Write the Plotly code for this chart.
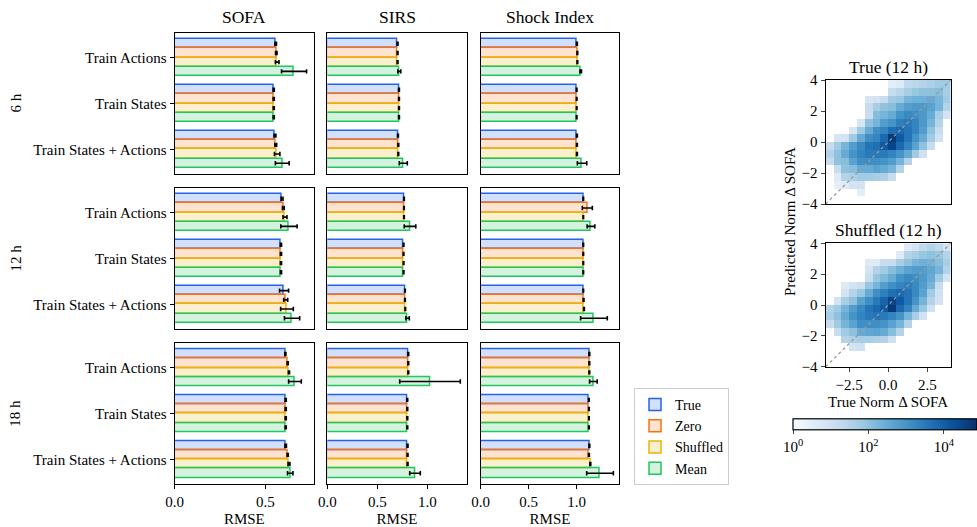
import plotly.graph_objects as go

W, H = 977, 527

metrics = ["SOFA", "SIRS", "Shock Index"]
horizons = ["6 h", "12 h", "18 h"]
groups = ["Train Actions", "Train States", "Train States + Actions"]
conditions = ["True", "Zero", "Shuffled", "Mean"]

# RMSE values, ordered: 6 h (TA, TS, TSA), 12 h (TA, TS, TSA), 18 h (TA, TS, TSA)
sofa_true = [0.557, 0.546, 0.553, 0.592, 0.586, 0.603, 0.610, 0.612, 0.612]
sofa_zero = [0.560, 0.546, 0.557, 0.599, 0.586, 0.612, 0.623, 0.612, 0.623]
sofa_shuf = [0.565, 0.546, 0.565, 0.608, 0.586, 0.619, 0.630, 0.612, 0.630]
sofa_mean = [0.658, 0.546, 0.593, 0.630, 0.586, 0.647, 0.663, 0.612, 0.637]
sofa_true_err = [0.004, 0.003, 0.005, 0.005, 0.003, 0.025, 0.003, 0.003, 0.004]
sofa_zero_err = [0.004, 0.003, 0.005, 0.005, 0.003, 0.011, 0.003, 0.003, 0.003]
sofa_shuf_err = [0.010, 0.003, 0.015, 0.011, 0.003, 0.035, 0.003, 0.003, 0.005]
sofa_mean_err = [0.069, 0.003, 0.038, 0.045, 0.003, 0.042, 0.035, 0.003, 0.015]

sirs_true = [0.703, 0.717, 0.707, 0.767, 0.763, 0.777, 0.810, 0.800, 0.803]
sirs_zero = [0.703, 0.717, 0.710, 0.767, 0.763, 0.777, 0.810, 0.800, 0.803]
sirs_shuf = [0.703, 0.717, 0.710, 0.767, 0.763, 0.780, 0.810, 0.800, 0.803]
sirs_mean = [0.720, 0.717, 0.760, 0.827, 0.763, 0.803, 1.027, 0.800, 0.877]
sirs_true_err = [0.004, 0.004, 0.004, 0.003, 0.003, 0.003, 0.004, 0.004, 0.004]
sirs_zero_err = [0.004, 0.004, 0.004, 0.003, 0.003, 0.003, 0.004, 0.004, 0.004]
sirs_shuf_err = [0.004, 0.004, 0.004, 0.003, 0.003, 0.003, 0.004, 0.004, 0.004]
sirs_mean_err = [0.015, 0.004, 0.040, 0.058, 0.003, 0.017, 0.303, 0.004, 0.053]

shock_true = [1.003, 1.000, 1.003, 1.069, 1.069, 1.069, 1.132, 1.128, 1.132]
shock_zero = [1.007, 1.000, 1.003, 1.111, 1.069, 1.072, 1.132, 1.128, 1.128]
shock_shuf = [1.007, 1.000, 1.003, 1.069, 1.069, 1.076, 1.132, 1.128, 1.142]
shock_mean = [1.042, 1.000, 1.056, 1.149, 1.069, 1.180, 1.174, 1.128, 1.243]
shock_true_err = [0.004, 0.003, 0.004, 0.003, 0.003, 0.003, 0.004, 0.003, 0.004]
shock_zero_err = [0.004, 0.003, 0.004, 0.052, 0.003, 0.004, 0.004, 0.003, 0.004]
shock_shuf_err = [0.004, 0.003, 0.004, 0.003, 0.003, 0.004, 0.004, 0.003, 0.005]
shock_mean_err = [0.008, 0.003, 0.049, 0.040, 0.003, 0.139, 0.040, 0.003, 0.139]

rmse = {
    "SOFA": [sofa_true, sofa_zero, sofa_shuf, sofa_mean],
    "SIRS": [sirs_true, sirs_zero, sirs_shuf, sirs_mean],
    "Shock Index": [shock_true, shock_zero, shock_shuf, shock_mean],
}
rmse_err = {
    "SOFA": [sofa_true_err, sofa_zero_err, sofa_shuf_err, sofa_mean_err],
    "SIRS": [sirs_true_err, sirs_zero_err, sirs_shuf_err, sirs_mean_err],
    "Shock Index": [shock_true_err, shock_zero_err, shock_shuf_err, shock_mean_err],
}

# 2D histogram (log10 counts), rows from top (y=3.75) to bottom (y=-3.75)
hist_bins = [-3.75, -3.25, -2.75, -2.25, -1.75, -1.25, -0.75, -0.25,
             0.25, 0.75, 1.25, 1.75, 2.25, 2.75, 3.25, 3.75]
N = None
true_log_counts = [
    [N, N, N, N, N, N, N, N, 0.5, 0.6, 1.3, 1.4, 1.5, 1.6, 1.8, 1.8],
    [N, N, N, N, N, N, N, N, 1.2, 1.4, 1.7, 1.9, 2.0, 2.0, 2.1, 1.7],
    [N, N, N, N, N, 0.8, 0.9, 1.2, 1.8, 1.9, 2.3, 2.4, 2.4, 2.5, 2.3, 1.8],
    [N, N, N, N, N, 1.2, 1.7, 2.0, 2.1, 2.5, 2.8, 2.9, 2.9, 2.7, 2.3, 1.5],
    [N, N, N, N, N, 1.1, 2.1, 2.3, 2.5, 3.0, 3.2, 3.1, 2.9, 2.5, 1.7, 0.9],
    [N, N, N, N, 0.8, 2.0, 2.3, 2.8, 3.0, 3.4, 3.5, 3.3, 2.9, 2.3, 1.5, N],
    [N, N, N, 0.8, 1.8, 2.5, 3.1, 3.3, 3.7, 3.8, 3.6, 3.3, 2.8, 2.0, 1.2, N],
    [N, 0.8, 0.9, 1.8, 2.5, 3.1, 3.3, 3.8, 4.7, 4.1, 3.6, 3.0, 2.5, 1.8, 1.0, N],
    [1.2, 1.8, 2.3, 2.8, 3.2, 3.6, 3.7, 4.1, 4.5, 3.8, 3.3, 2.7, 2.0, 1.2, N, N],
    [1.5, 2.0, 2.5, 3.0, 3.3, 3.5, 3.5, 3.5, 3.3, 3.0, 2.5, 1.8, 1.0, N, N, N],
    [1.2, 2.0, 2.1, 2.7, 3.1, 3.1, 3.1, 3.0, 2.8, 2.3, 1.5, N, N, N, N, N],
    [N, 1.2, 2.0, 2.1, 2.5, 2.5, 2.7, 2.5, 2.3, 1.5, N, N, N, N, N, N],
    [N, 0.6, 1.5, 1.6, 1.8, 1.8, 1.7, 1.6, 1.2, N, N, N, N, N, N, N],
    [N, 0.5, 0.6, 0.9, 0.9, N, N, N, N, N, N, N, N, N, N, N],
    [N, N, N, N, 0.5, N, N, N, N, N, N, N, N, N, N, N],
    [N, N, N, N, N, N, N, N, N, N, N, N, N, N, N, N],
]
shuffled_log_counts = [
    [N, N, N, N, N, N, N, N, N, N, 0.6, 0.9, 1.3, 1.5, 1.3, 0.9],
    [N, N, N, N, N, N, N, N, N, 0.6, 1.5, 1.7, 1.9, 2.0, 1.9, 1.5],
    [N, N, N, N, N, 0.6, 0.6, 1.2, 1.2, 1.7, 2.0, 2.3, 2.4, 2.3, 2.1, 1.7],
    [N, N, N, N, N, 0.9, 1.5, 1.8, 2.1, 2.4, 2.7, 2.8, 2.8, 2.6, 2.3, 1.5],
    [N, N, N, N, N, 1.1, 1.9, 2.2, 2.5, 3.0, 3.2, 3.1, 2.9, 2.5, 1.8, 0.9],
    [N, N, 0.6, 0.9, 1.1, 1.9, 2.3, 2.8, 3.1, 3.3, 3.4, 3.2, 2.8, 2.3, 1.2, N],
    [N, N, 0.9, 1.5, 1.9, 2.5, 3.1, 3.4, 3.7, 3.8, 3.6, 3.2, 2.7, 1.8, 1.0, N],
    [N, 0.9, 1.7, 2.0, 2.7, 3.1, 3.5, 3.9, 4.5, 4.1, 3.6, 3.0, 2.3, 1.5, 0.9, N],
    [1.5, 1.8, 2.3, 2.8, 3.2, 3.6, 3.8, 4.1, 4.7, 3.8, 3.3, 2.5, 1.9, 1.0, N, N],
    [1.7, 2.0, 2.5, 3.0, 3.3, 3.5, 3.6, 3.5, 3.3, 3.0, 2.3, 1.7, 0.9, N, N, N],
    [1.2, 1.8, 2.3, 2.7, 3.1, 3.1, 3.1, 3.0, 2.7, 2.3, 1.5, N, N, N, N, N],
    [N, 1.2, 1.8, 2.0, 2.5, 2.6, 2.7, 2.5, 2.1, 1.5, N, N, N, N, N, N],
    [N, N, 1.5, 1.6, 1.7, 1.7, 1.6, 1.5, 1.0, N, N, N, N, N, N, N],
    [N, N, N, 0.9, 1.0, N, N, N, N, N, N, N, N, N, N, N],
    [N, N, N, N, N, N, N, N, N, N, N, N, N, N, N, N],
    [N, N, N, N, N, N, N, N, N, N, N, N, N, N, N, N],
]
diag_line = [-4, 4]
cbar_ticks = [0, 2, 4]
cbar_labels = ["10<sup>0</sup>", "10<sup>2</sup>", "10<sup>4</sup>"]

edge_colors = ["#2563eb", "#f97316", "#eab308", "#22c55e"]
fill_colors = ["rgba(37,99,235,0.2)", "rgba(249,115,22,0.2)",
               "rgba(234,179,8,0.2)", "rgba(34,197,94,0.2)"]
offsets = [-0.3, -0.1, 0.1, 0.3]

FONT = "Liberation Serif"
FS = 15
TICKF = dict(family=FONT, size=FS, color="black")

def px_x(p):
    return p / W

def px_y(p):
    return 1 - p / H

col_dom = [(174.7, 314.0), (327.3, 466.7), (480.7, 619.3)]
row_dom = [(33, 174), (188, 329), (343.3, 484)]
x_ranges = [0.768, 1.394, 1.444]
x_ticks = [[0, 0.5], [0, 0.5, 1.0], [0, 0.5, 1.0]]

fig = go.Figure()
layout = {}

for r, hz in enumerate(horizons):
    for c, m in enumerate(metrics):
        k = r * 3 + c + 1
        for j, cond in enumerate(conditions):
            vals = rmse[m][j][r * 3:(r + 1) * 3]
            errs = rmse_err[m][j][r * 3:(r + 1) * 3]
            ypos = [g + offsets[j] for g in range(len(groups))]
            fig.add_trace(go.Bar(
                x=vals, y=ypos, orientation="h", width=0.2,
                name=cond, legendgroup=cond, showlegend=(k == 1),
                marker=dict(color=fill_colors[j],
                            line=dict(color=edge_colors[j], width=1.5)),
                error_x=dict(type="data", array=errs, color="black",
                             thickness=1.6, width=2.2),
                xaxis="x" if k == 1 else f"x{k}",
                yaxis="y" if k == 1 else f"y{k}",
            ))
        bottom = (r == 2)
        left = (c == 0)
        xa = dict(
            domain=[px_x(col_dom[c][0]), px_x(col_dom[c][1])],
            range=[0, x_ranges[c]], anchor=f"y{k}" if k > 1 else "y",
            showline=True, mirror=True, linecolor="black", linewidth=1.3,
            showgrid=False, zeroline=False,
            tickvals=x_ticks[c], tickformat=".1f",
            ticks="outside" if bottom else "", ticklen=4, tickcolor="black",
            showticklabels=bottom, tickfont=TICKF,
        )
        if bottom:
            xa["title"] = dict(text="RMSE", font=TICKF, standoff=6)
        ya = dict(
            domain=[px_y(row_dom[r][1]), px_y(row_dom[r][0])],
            range=[2.535, -0.535], anchor=f"x{k}" if k > 1 else "x",
            showline=True, mirror=True, linecolor="black", linewidth=1.3,
            showgrid=False, zeroline=False,
            tickvals=[0, 1, 2], ticktext=groups,
            ticks="outside" if left else "", ticklen=4, tickcolor="black",
            showticklabels=left, tickfont=TICKF,
        )
        layout["xaxis" if k == 1 else f"xaxis{k}"] = xa
        layout["yaxis" if k == 1 else f"yaxis{k}"] = ya

# heatmaps
blues = [[0.0, "#f7fbff"], [0.125, "#deebf7"], [0.25, "#c6dbef"],
         [0.375, "#9ecae1"], [0.5, "#6baed6"], [0.625, "#4292c6"],
         [0.75, "#2171b5"], [0.875, "#08519c"], [1.0, "#08306b"]]
hm_x = (825.7, 950.7)
hm_rows = [(80, 204), (243.3, 366.7)]
hm_data = [true_log_counts, shuffled_log_counts]
for i, z in enumerate(hm_data):
    k = 10 + i
    fig.add_trace(go.Heatmap(
        x=hist_bins, y=hist_bins[::-1], z=z, coloraxis="coloraxis",
        xaxis=f"x{k}", yaxis=f"y{k}", hoverongaps=False,
    ))
    fig.add_trace(go.Scatter(
        x=diag_line, y=diag_line, mode="lines", showlegend=False,
        line=dict(color="#999999", width=1.3, dash="dot"),
        xaxis=f"x{k}", yaxis=f"y{k}",
    ))
    bottom = (i == 1)
    layout[f"xaxis{k}"] = dict(
        domain=[px_x(hm_x[0]), px_x(hm_x[1])], range=[-4, 4], anchor=f"y{k}",
        showline=True, mirror=True, linecolor="black", linewidth=1.3,
        showgrid=False, zeroline=False, tickvals=[-2.5, 0, 2.5],
        tickformat=".1f", ticks="outside" if bottom else "", ticklen=4,
        showticklabels=bottom, tickfont=TICKF,
    )
    layout[f"yaxis{k}"] = dict(
        domain=[px_y(hm_rows[i][1]), px_y(hm_rows[i][0])], range=[-4, 4],
        anchor=f"x{k}", showline=True, mirror=True, linecolor="black",
        linewidth=1.3, showgrid=False, zeroline=False,
        tickvals=[-4, -2, 0, 2, 4], ticks="outside", ticklen=4,
        tickfont=TICKF,
    )

layout["coloraxis"] = dict(
    colorscale=blues, cmin=0, cmax=4.88,
    colorbar=dict(
        orientation="h", x=px_x(793), xanchor="left", len=(977 - 793) / W,
        lenmode="fraction", y=px_y(456), yanchor="bottom", thickness=11,
        thicknessmode="pixels", xpad=0, ypad=0, outlinewidth=1.2,
        outlinecolor="black", tickvals=cbar_ticks, ticktext=cbar_labels,
        ticks="outside", ticklen=4, tickfont=TICKF,
    ),
)

def label(text, x, y, size=FS, angle=0):
    return dict(text=text, x=px_x(x), y=px_y(y), xref="paper", yref="paper",
                xanchor="center", yanchor="middle", showarrow=False,
                textangle=angle,
                font=dict(family=FONT, size=size, color="black"))

annotations = []
for c, m in enumerate(metrics):
    annotations.append(label(m, (col_dom[c][0] + col_dom[c][1]) / 2, 17,
                             size=17.5))
for r, hz in enumerate(horizons):
    annotations.append(label(hz, 15, (row_dom[r][0] + row_dom[r][1]) / 2,
                             angle=-90))
annotations += [
    label("True (12 h)", 888, 67, size=17.5),
    label("Shuffled (12 h)", 888, 230, size=17.5),
    label("Predicted Norm Δ SOFA", 790, 222, angle=-90),
    label("True Norm Δ SOFA", 888, 402),
]

fig.update_layout(
    width=W, height=H,
    margin=dict(l=0, r=0, t=0, b=0, pad=0, autoexpand=False),
    paper_bgcolor="white", plot_bgcolor="white",
    barmode="overlay", bargap=0,
    font=dict(family=FONT, size=FS, color="black"),
    legend=dict(x=px_x(634), y=px_y(388), xanchor="left", yanchor="top",
                bordercolor="#cccccc", borderwidth=1, bgcolor="white",
                font=dict(family=FONT, size=14, color="black"),
                tracegroupgap=0),
    annotations=annotations,
    **layout,
)

fig.write_html(
    "out.html",
    config={"displayModeBar": False},
    post_script="document.body.style.margin='0px';"
                "document.body.style.overflow='hidden';",
)
